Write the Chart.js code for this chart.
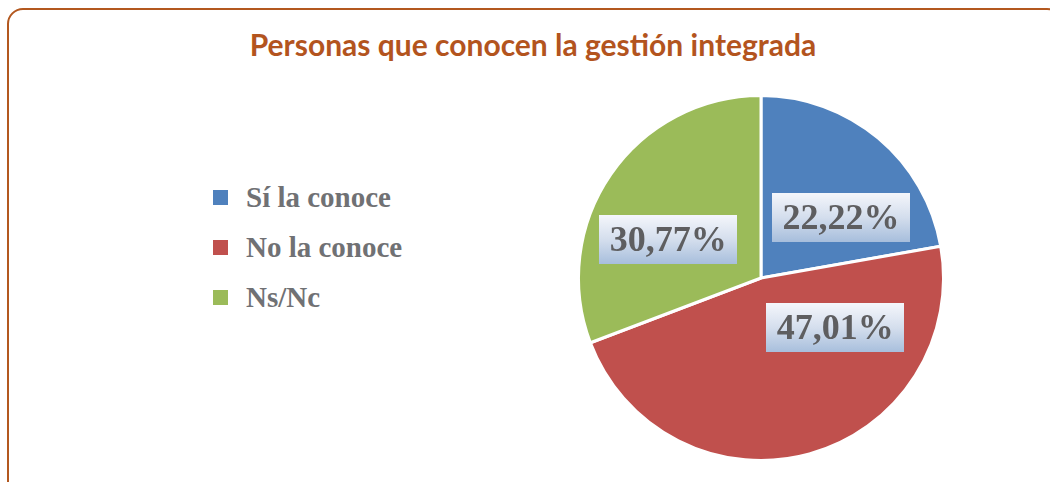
<!DOCTYPE html>
<html lang="es">
<head>
    <meta charset="UTF-8">
    <title>Personas que conocen la gestión integrada</title>
    <script src="https://cdn.jsdelivr.net/npm/chart.js"></script>
    <style>
        html, body {
            margin: 0;
            padding: 0;
            background: #ffffff;
            overflow: hidden;
        }
        .frame {
            position: absolute;
            left: 7px;
            top: 8px;
            width: 1052px;
            height: 520px;
            border: 2px solid #B3581F;
            border-radius: 16px;
        }
        .title {
            position: absolute;
            left: 8px;
            width: 1050px;
            top: 26px;
            text-align: center;
            font-family: Lato, "Open Sans", sans-serif;
            font-weight: bold;
            font-size: 30px;
            color: #B3541E;
            margin: 0;
        }
        .legend {
            position: absolute;
            left: 213px;
            top: 172px;
            font-family: "Liberation Serif", serif;
            font-weight: bold;
            font-size: 29px;
            color: #707174;
        }
        .legend .item {
            height: 50px;
            display: flex;
            align-items: center;
        }
        .legend .swatch {
            width: 15px;
            height: 15px;
            margin-right: 18px;
        }
        #pieChart {
            position: absolute;
            left: 561px;
            top: 78px;
        }
    </style>
</head>
<body>
    <div class="frame"></div>
    <h1 class="title" id="title"></h1>
    <div class="legend" id="legend"></div>
    <canvas id="pieChart" width="400" height="400"></canvas>

    <script>
        const chartTitle = 'Personas que conocen la gestión integrada';
        const categories = ['Sí la conoce', 'No la conoce', 'Ns/Nc'];
        const percentages = [22.22, 47.01, 30.77];
        const sliceColors = ['#4F81BD', '#C0504D', '#9BBB59'];

        // where each label sits inside its slice: [share of the slice angle, share of the radius]
        const labelPlace = [[0.66, 0.55], [0.26, 0.49], [0.39, 0.55]];

        document.getElementById('title').textContent = chartTitle;

        const legend = document.getElementById('legend');
        categories.forEach((cat, i) => {
            const item = document.createElement('div');
            item.className = 'item';
            item.innerHTML = `<span class="swatch" style="background:${sliceColors[i]}"></span><span>${cat}</span>`;
            legend.appendChild(item);
        });

        function fmt(v) {
            return v.toFixed(2).replace('.', ',') + '%';
        }

        // boxed percentage labels with the light blue gradient
        const boxLabels = {
            id: 'boxLabels',
            afterDatasetsDraw(chart) {
                const ctx = chart.ctx;
                const meta = chart.getDatasetMeta(0);
                ctx.save();
                ctx.font = 'bold 36px "Liberation Serif", serif';
                ctx.textAlign = 'center';
                ctx.textBaseline = 'middle';
                meta.data.forEach((arc, i) => {
                    const p = arc.getProps(['x', 'y', 'startAngle', 'endAngle', 'outerRadius'], true);
                    const a = p.startAngle + (p.endAngle - p.startAngle) * labelPlace[i][0];
                    const r = p.outerRadius * labelPlace[i][1];
                    const cx = p.x + Math.cos(a) * r;
                    const cy = p.y + Math.sin(a) * r;
                    const text = fmt(chart.data.datasets[0].data[i]);
                    const w = 138;
                    const h = 49;
                    const g = ctx.createLinearGradient(0, cy - h / 2, 0, cy + h / 2);
                    g.addColorStop(0, '#F4F6FB');
                    g.addColorStop(0.5, '#D4DEED');
                    g.addColorStop(1, '#A7BEDC');
                    ctx.fillStyle = g;
                    ctx.fillRect(Math.round(cx - w / 2), Math.round(cy - h / 2), w, h);
                    ctx.fillStyle = '#5E5E60';
                    ctx.fillText(text, cx, cy + 2);
                });
                ctx.restore();
            }
        };

        new Chart(document.getElementById('pieChart'), {
            type: 'pie',
            data: {
                labels: categories,
                datasets: [{
                    data: percentages,
                    backgroundColor: sliceColors,
                    borderColor: '#ffffff',
                    borderWidth: 3
                }]
            },
            options: {
                responsive: false,
                animation: false,
                layout: { padding: 16 },
                plugins: {
                    legend: { display: false },
                    tooltip: { enabled: false }
                }
            },
            plugins: [boxLabels]
        });
    </script>
</body>
</html>
